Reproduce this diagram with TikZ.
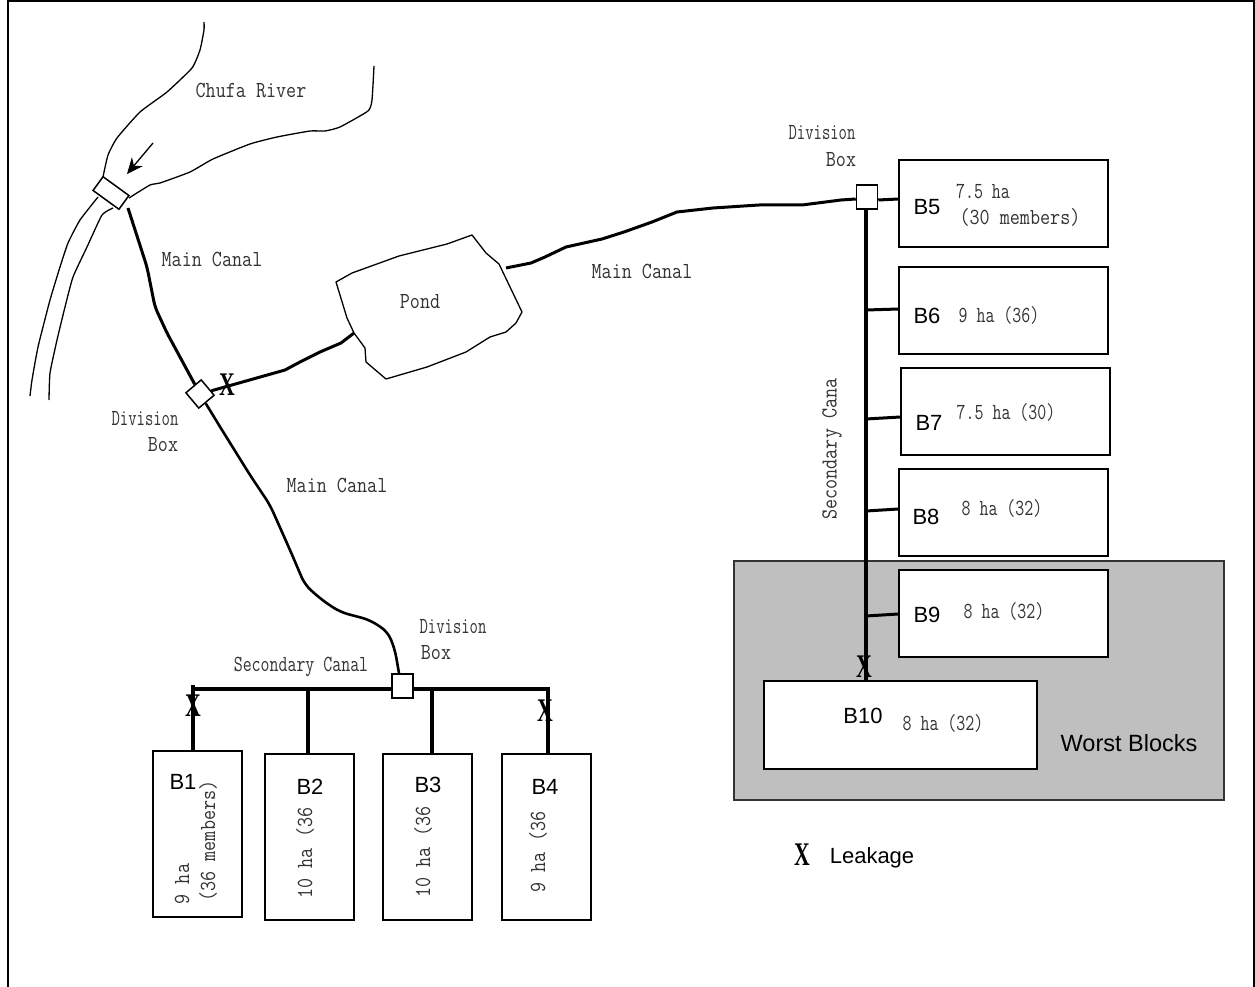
\documentclass[tikz,border=0pt]{standalone}
\usepackage{fontspec}
\setsansfont{Liberation Sans}
\setmonofont[FakeStretch=0.85]{Latin Modern Mono}
\newfontfamily\xmarkfont{Liberation Serif}
\usetikzlibrary{arrows.meta}
\newcommand{\nrw}[1]{\scalebox{.89}[1]{#1}}
\newcommand{\dvs}[1]{\scalebox{.83}[1]{#1}}
\newcommand{\xmark}{\scalebox{.66}[1]{X}}
\tikzset{
  bank/.style={line width=1.3pt,line join=round,smooth,tension=0.3},
  pondline/.style={line width=1.3pt,line join=round,fill=white},
  canal/.style={line width=3pt,line join=round},
  branch/.style={line width=4pt},
  stub/.style={line width=3pt},
  blockbox/.style={draw,line width=1.3pt,fill=white,inner sep=0pt},
  divbox/.style={draw,line width=1.5pt,fill=white,inner sep=0pt},
  lbl/.style={font=\ttfamily\fontsize{23}{23}\selectfont,text=black!80,inner sep=0pt},
  blk/.style={font=\sffamily\fontsize{22}{22}\selectfont,inner sep=0pt},
  leak/.style={font=\xmarkfont\bfseries\fontsize{33}{33}\selectfont,inner sep=0pt},
}
\begin{document}
\begin{tikzpicture}[x=1pt,y=-1pt]
\useasboundingbox (0,0) rectangle (1255,987);
\fill[white] (0,0) rectangle (1255,987);
\draw[line width=1.5pt] (8,987) -- (8,1) -- (1254,1) -- (1254,987);
% river
\draw[bank] plot coordinates {(204,22) (204,30) (200,50) (192,68) (167,92) (140,112) (117,138) (108,155) (103,177)};
\draw[bank] plot coordinates {(374,66) (372,100) (368,111) (340,127) (325,131) (310,131) (277,137) (250,144) (213,159) (190,172) (160,183) (150,185) (129,198)};
\draw[bank] plot coordinates {(98,197) (80,220) (68,243) (60,267) (50,300) (38,347) (32,380) (30,396)};
\draw[bank] plot coordinates {(113,208) (102,215) (87,247) (73,277) (65,307) (57,340) (50,373) (49,400)};
\coordinate (arrowtail) at (153,143);
\coordinate (arrowhead) at (127,174);
\draw[line width=1.3pt,-{Stealth[length=16pt,width=14pt]}] (arrowtail) -- (arrowhead);
\coordinate (c1start) at (128,208);
\node[draw,line width=1.5pt,fill=white,minimum width=32pt,minimum height=17pt,inner sep=0pt,rotate=-36] (head) at (111,193) {};
% gray block
\fill[black!25] (734,561) rectangle (1224,800);
\draw[line width=1.2pt,black!80] (734,561) rectangle (1224,800);
% pond
\draw[pondline] (336,282) -- (352,273) -- (399,256) -- (447,244) -- (472,235) -- (486,253) -- (499,264) -- (522,312) -- (516,323) -- (506,332) -- (490,337) -- (466,352) -- (427,367) -- (386,379) -- (366,362) -- (365,348) -- (354,333) -- (347,318) -- cycle;
% division boxes
\node[divbox,minimum size=20pt,rotate=40] (db1) at (200,394) {};
\node[divbox,minimum width=21pt,minimum height=24pt] (db2) at (402.5,686) {};
\node[divbox,minimum width=21pt,minimum height=24pt] (db3) at (867,197) {};
\coordinate (pondin) at (354,333);
\coordinate (pondout) at (506,268);
% main canal
\draw[canal,rounded corners=6pt] (c1start) -- (147,267) -- (155,307) -- (167,333) -- (db1);
\draw[canal,line width=2.6pt,rounded corners=8pt] (db1) -- (222,430) -- (250,475) -- (270,505) -- (290,550) -- (305,585) -- (322,600) -- (340,612) -- (370,620) -- (388,632) -- (395,650) -- (db2.north -| 399,674);
\draw[canal] (db1) -- (285,370) -- (300,362) -- (320,352) -- (341,343) -- (pondin);
\draw[canal] (pondout) -- (531,263) -- (545,257) -- (566,247) -- (602,239) -- (624,232) -- (652,222) -- (677,212) -- (713,208) -- (759,205) -- (802,205) -- (841,200) -- (db3.west |- 0,199);
% secondary left
\coordinate (leftend) at (193,689);
\coordinate (rightend) at (548,689);
\node[blockbox,minimum width=89pt,minimum height=166pt] (b1) at (197.5,834) {};
\node[blockbox,minimum width=89pt,minimum height=166pt] (b2) at (309.5,837) {};
\node[blockbox,minimum width=89pt,minimum height=166pt] (b3) at (427.5,837) {};
\node[blockbox,minimum width=89pt,minimum height=166pt] (b4) at (546.5,837) {};
\draw[branch] (db2.west |- leftend) -- (leftend);
\draw[branch] (193,685) -- (b1.north -| 193,750);
\draw[branch] (db2.east |- rightend) -- (546,689);
\draw[branch] (548,687) -- (b4.north -| 548,754);
\draw[branch] (308,689) -- (b2.north -| 308,754);
\draw[branch] (432,689) -- (b3.north -| 432,754);
% right blocks
\node[blockbox,minimum width=209pt,minimum height=87pt] (b5) at (1003.5,203.5) {};
\node[blockbox,minimum width=209pt,minimum height=87pt] (b6) at (1003.5,310.5) {};
\node[blockbox,minimum width=209pt,minimum height=87pt] (b7) at (1005.5,411.5) {};
\node[blockbox,minimum width=209pt,minimum height=87pt] (b8) at (1003.5,512.5) {};
\node[blockbox,minimum width=209pt,minimum height=87pt] (b9) at (1003.5,613.5) {};
\node[blockbox,minimum width=273pt,minimum height=88pt] (b10) at (900.5,725) {};
\draw[branch] (db3.south -| 866,209) -- (b10.north -| 866,681);
\draw[stub] (db3.east |- 0,200) -- (b5.west |- 0,199);
\draw[stub] (866,310) -- (b6.west |- 0,309);
\draw[stub] (866,419) -- (b7.west |- 0,417);
\draw[stub] (866,511) -- (b8.west |- 0,509);
\draw[stub] (866,616) -- (b9.west |- 0,614);
% leakage marks
\node[leak] (x1) at (227,385) {\xmark};
\node[leak] (x2) at (193,706) {\xmark};
\node[leak] (x3) at (545,711) {\xmark};
\node[leak] (x4) at (864,667) {\xmark};
\node[leak] (x5) at (802,855) {\xmark};
% text
\node[lbl] at (251,90) {Chufa River};
\node[lbl] at (212,259) {Main Canal};
\node[lbl] at (145,419) {\dvs{Division}};
\node[lbl] at (163,445) {Box};
\node[lbl] at (420,302) {Pond};
\node[lbl] at (642,271) {Main Canal};
\node[lbl] at (337,485) {Main Canal};
\node[lbl] at (822,133) {\dvs{Division}};
\node[lbl] at (841,160) {Box};
\node[lbl] at (453,627) {\dvs{Division}};
\node[lbl] at (436,653) {Box};
\node[lbl] at (301,667) {\nrw{Secondary Canal}};
\node[lbl,rotate=90] at (832,449) {Secondary Cana};
\node[blk] at (183,782) {B1};
\node[blk] at (310,787) {B2};
\node[blk] at (428,785) {B3};
\node[blk] at (545,787) {B4};
\node[lbl,rotate=90] at (182,884) {9 ha};
\node[lbl,rotate=90] at (208,841) {(36 members)};
\node[lbl,rotate=90] at (305,853) {10 ha (36};
\node[lbl,rotate=90] at (423,852) {10 ha (36};
\node[lbl,rotate=90] at (538,852) {9 ha (36};
\node[blk] at (927,207) {B5};
\node[lbl] at (983,191) {\nrw{7.5 ha}};
\node[lbl] at (1020,217) {(30 members)};
\node[blk] at (927,316) {B6};
\node[lbl] at (999,315) {\nrw{9 ha (36)}};
\node[blk] at (929,423) {B7};
\node[lbl] at (1006,412) {\nrw{7.5 ha (30)}};
\node[blk] at (926,517) {B8};
\node[lbl] at (1002,508) {\nrw{8 ha (32)}};
\node[blk] at (927,615) {B9};
\node[lbl] at (1004,611) {\nrw{8 ha (32)}};
\node[blk] at (863,716) {B10};
\node[lbl] at (943,723) {\nrw{8 ha (32)}};
\node[blk,font=\sffamily\fontsize{23.5}{24}\selectfont] at (1129,743) {Worst Blocks};
\node[blk] at (872,858) {Leakage};
\end{tikzpicture}
\end{document}
